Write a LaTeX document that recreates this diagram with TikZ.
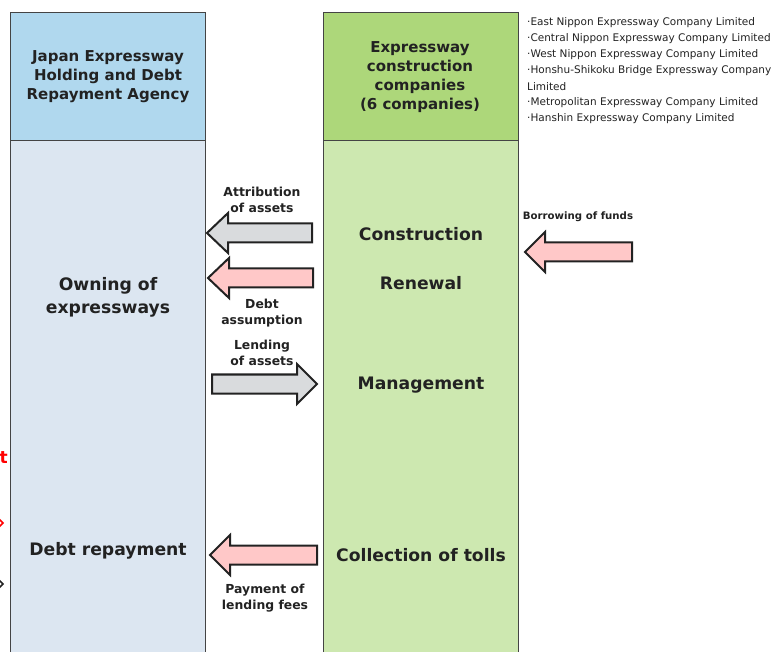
\documentclass[tikz,border=0pt]{standalone}
\usepackage{fontspec}
\setmainfont{DejaVu Sans}
\usetikzlibrary{positioning}

\definecolor{boxline}{HTML}{444444}
\definecolor{txt}{HTML}{222222}
\definecolor{agencyhead}{HTML}{B0D8EE}
\definecolor{agencybody}{HTML}{DCE6F1}
\definecolor{cohead}{HTML}{ADD77A}
\definecolor{cobody}{HTML}{CDE8B0}
\definecolor{assetgrey}{HTML}{D9DBDD}
\definecolor{debtpink}{HTML}{FFC8C8}

\tikzset{
  headtext/.style={align=center, text=txt, inner sep=0pt, font=\bfseries\fontsize{15}{19}\selectfont},
  bigtext/.style={align=center, text=txt, inner sep=0pt, font=\bfseries\fontsize{17.2}{23}\selectfont},
  flowtext/.style={align=center, text=txt, inner sep=0pt, font=\bfseries\fontsize{12.4}{16}\selectfont},
  listtext/.style={anchor=west, text=txt, inner sep=0pt, font=\fontsize{10.5}{16}\selectfont},
  arrowline/.style={draw=txt, line width=2pt, line join=miter},
}

% block arrow: tail x, head base x, tip x, mid y, fill
\newcommand{\blockarrow}[5]{%
  \draw[arrowline, fill=#5] (#1,#4-9.5) -- (#2,#4-9.5) -- (#2,#4-20) -- (#3,#4)
    -- (#2,#4+20) -- (#2,#4+9.5) -- (#1,#4+9.5) -- cycle;}

\begin{document}
\begin{tikzpicture}[x=1pt,y=-1pt]
  \useasboundingbox (0,0) rectangle (774,652);
  \clip (0,0) rectangle (774,652);
  % Columns
  \fill[agencyhead] (10,12) rectangle (205,140);
  \fill[agencybody] (10,140) rectangle (205,660);
  \draw[boxline, line width=0.9pt] (10,660) -- (10,12) -- (205,12) -- (205,660);
  \draw[boxline, line width=0.9pt] (10,140) -- (205,140);
  \fill[cohead] (323,12) rectangle (518,140);
  \fill[cobody] (323,140) rectangle (518,660);
  \draw[boxline, line width=0.9pt] (323,660) -- (323,12) -- (518,12) -- (518,660);
  \draw[boxline, line width=0.9pt] (323,140) -- (518,140);
  % Headers
  \node[headtext] (agency) at (108,77) {Japan Expressway\\Holding and Debt\\Repayment Agency};
  \node[headtext] (companies) at (420,77.5) {Expressway\\construction\\companies\\(6 companies)};
  % Roles
  \node[bigtext] (owning) at (108,297) {Owning of\\expressways};
  \node[bigtext] (repay) at (108,551) {Debt repayment};
  \node[bigtext] (construct) at (421,234) {Construction};
  \node[bigtext] (renew) at (421,283) {Renewal};
  \node[bigtext] (manage) at (421,385) {Management};
  \node[bigtext] (tolls) at (421,555) {Collection of tolls};
  % Arrows
  \blockarrow{312}{228}{207}{233}{assetgrey}
  \blockarrow{313}{229}{208}{278}{debtpink}
  \blockarrow{212}{297}{317}{384}{assetgrey}
  \blockarrow{317}{230}{210}{555}{debtpink}
  \blockarrow{632}{545}{525}{252}{debtpink}
  % Labels
  \node[flowtext] (attrib) at (262,200) {Attribution\\of assets};
  \node[flowtext] (assume) at (262,313) {Debt\\assumption};
  \node[flowtext] (lend) at (262,353) {Lending\\of assets};
  \node[flowtext] (fees) at (265,598) {Payment of\\lending fees};
  \node[flowtext, font=\bfseries\fontsize{10.2}{14}\selectfont] (borrow) at (578,217) {Borrowing of funds};
  % Company list
  \foreach \t [count=\i from 0] in {·East Nippon Expressway Company Limited,
      ·Central Nippon Expressway Company Limited,
      ·West Nippon Expressway Company Limited,
      ·Honshu-Shikoku Bridge Expressway Company,
      Limited,
      ·Metropolitan Expressway Company Limited,
      ·Hanshin Expressway Company Limited} {
    \node[listtext] (co\i) at (527,{23+16*\i}) {\t};
  }
  % Cut-off pieces at the left edge
  \node[anchor=east, inner sep=0pt, text=red, font=\bfseries\fontsize{17}{20}\selectfont] (cut) at (8,458) {t};
  \draw[red, line width=1.5pt] (-2,518) -- (3,523) -- (-2,528);
  \draw[txt, line width=1.5pt] (-2,579) -- (3,584) -- (-2,589);
\end{tikzpicture}
\end{document}
